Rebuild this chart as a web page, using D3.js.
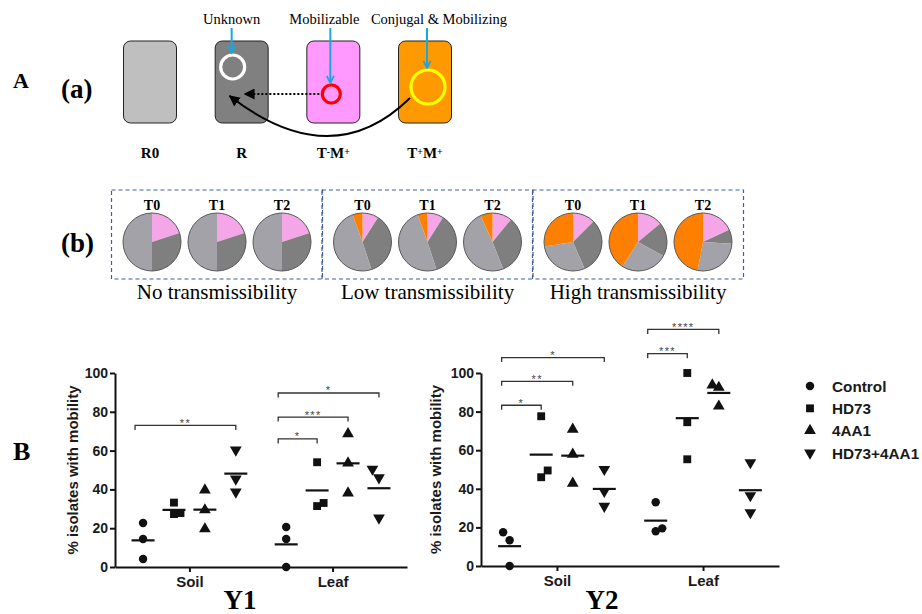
<!DOCTYPE html>
<html>
<head>
<meta charset="utf-8">
<script src="https://cdn.jsdelivr.net/npm/d3@7"></script>
<style>
  body { margin: 0; background: #fff; }
  svg { display: block; }
  .serif { font-family: "Liberation Serif", "Times New Roman", serif; }
  .sans { font-family: "Liberation Sans", Arial, sans-serif; }
</style>
</head>
<body>
<svg id="fig" width="922" height="614"></svg>
<script>
// panel A (a): cell types and plasmid labels
var cellTypes = ['R0', 'R', 'T-M+', 'T+M+'];
var cellColors = ['#bfbfbf', '#808080', '#ff99ff', '#ff9900'];
var plasmidLabels = ['Unknown', 'Mobilizable', 'Conjugal & Mobilizing'];

// panel A (b): pie slices, clockwise from 12 o'clock: T-M+, R, R0, T+M+ (%)
var pieGroups = ['No transmissibility', 'Low transmissibility', 'High transmissibility'];
var pieTimes = ['T0', 'T1', 'T2'];
var pieColors = ['#f5a6e6', '#7f7f7f', '#a2a2a8', '#ff8000'];
var pieNo = [[20, 30, 50, 0], [20, 30, 50, 0], [20, 30, 50, 0]];
var pieLow = [[9, 36, 49.5, 5.5], [9, 36, 49.5, 5.5], [11, 33, 49.3, 6.7]];
var pieHigh = [[12.5, 31, 29, 27.5], [14, 19, 26, 41], [18, 8, 27, 47]];

// panel B: % isolates with mobility
var categories = ['Soil', 'Leaf'];
var treatments = ['Control', 'HD73', '4AA1', 'HD73+4AA1'];
var y1Soil = [[22.7, 14.4, 4.1], [33.2, 27.3, 27.8], [39.7, 29.4, 19.6], [60.3, 45.4, 38.7]];
var y1Leaf = [[20.6, 14.4, 0], [54, 31.4, 33], [68.6, 53.6, 38.1], [50.5, 46, 25.3]];
var y2Soil = [[17.5, 13.3, 0], [77.6, 46, 49.5], [70.8, 57.9, 42.8], [50.1, 38.7, 31]];
var y2Leaf = [[33, 18, 19.5], [100, 74.5, 55.3], [93.7, 92.5, 82.8], [53.6, 36.5, 27.7]];
var yTicks = [0, 20, 40, 60, 80, 100];
// [category, from treatment, to treatment, bracket height (%), label]
var y1Brackets = [['Soil', 0, 3, 73, '**'], ['Leaf', 0, 1, 66, '*'], ['Leaf', 0, 2, 77.3, '***'], ['Leaf', 0, 3, 89.7, '*']];
var y2Brackets = [['Soil', 0, 1, 83.3, '*'], ['Soil', 0, 2, 95.7, '**'], ['Soil', 0, 3, 108, '*'],
  ['Leaf', 0, 1, 110, '***'], ['Leaf', 0, 2, 122.6, '****']];

(function () {
  var svg = d3.select('#fig');
  svg.append('rect').attr('width', 922).attr('height', 614).attr('fill', '#fff');

  var defs = svg.append('defs');
  defs.append('marker').attr('id', 'blueHead')
      .attr('viewBox', '0 0 10 10').attr('refX', 9).attr('refY', 5)
      .attr('markerWidth', 9).attr('markerHeight', 9).attr('markerUnits', 'userSpaceOnUse')
      .attr('orient', 'auto')
    .append('path').attr('d', 'M1,1 L9,5 L1,9')
      .attr('fill', 'none').attr('stroke', '#1aa7e0').attr('stroke-width', 2);
  defs.append('marker').attr('id', 'blackHead')
      .attr('viewBox', '0 0 10 10').attr('refX', 9).attr('refY', 5)
      .attr('markerWidth', 11).attr('markerHeight', 11).attr('markerUnits', 'userSpaceOnUse')
      .attr('orient', 'auto')
    .append('path').attr('d', 'M0,0 L10,5 L0,10 Z').attr('fill', '#000');

  // label with superscript +/- signs
  var supLabel = function (sel, text) {
    text.split('').forEach(function (ch) {
      if (ch === '+' || ch === '-') {
        sel.append('tspan').attr('baseline-shift', '35%').attr('font-size', '0.65em').text(ch);
      } else {
        sel.append('tspan').text(ch);
      }
    });
  };

  var panelLetter = function (txt, x, y, size) {
    svg.append('text').attr('class', 'serif').attr('x', x).attr('y', y)
        .attr('font-size', size).attr('font-weight', 'bold').text(txt);
  };

  panelLetter('A', 13, 88, 22);
  panelLetter('(a)', 61, 98, 27);
  panelLetter('(b)', 61, 252, 27);
  panelLetter('B', 13, 460, 26);

  // ---- A (a) cell diagram
  var cellX = d3.scalePoint().domain(cellTypes).range([150, 425]);
  var boxW = 53, boxH = 82, boxTop = 41;
  var cells = svg.append('g');
  cells.selectAll('rect.cell').data(cellTypes).enter().append('rect')
      .attr('class', 'cell')
      .attr('x', function (d) { return cellX(d) - boxW / 2; })
      .attr('y', boxTop)
      .attr('width', boxW).attr('height', boxH)
      .attr('rx', 7)
      .attr('fill', function (d, i) { return cellColors[i]; })
      .attr('stroke', '#222').attr('stroke-width', 1);

  cells.selectAll('text.cell').data(cellTypes).enter().append('text')
      .attr('class', 'serif cell')
      .attr('x', function (d) { return cellX(d); })
      .attr('y', 158)
      .attr('text-anchor', 'middle')
      .attr('font-size', 15).attr('font-weight', 'bold')
      .each(function (d) { supLabel(d3.select(this), d); });

  var plasmids = [
    {cell: 'R', dx: -9, cy: 67, r: 12, color: '#ffffff'},
    {cell: 'T-M+', dx: -2, cy: 94, r: 9, color: '#ff0000'},
    {cell: 'T+M+', dx: 3, cy: 87, r: 17, color: '#ffff00'}
  ];
  var labelDx = [-1, -7, 11];

  // curved and dotted transfer arrows
  var yellow = plasmids[2], red = plasmids[1], white = plasmids[0];
  var wx = cellX(white.cell), rx0 = cellX(red.cell) + red.dx, yx = cellX(yellow.cell) + yellow.dx;
  cells.append('path')
      .attr('d', 'M' + (yx - 18) + ',' + (yellow.cy + 11) + ' Q' + (wx + 90) + ',175 ' + (wx - 12) + ',96')
      .attr('fill', 'none').attr('stroke', '#000').attr('stroke-width', 2)
      .attr('marker-end', 'url(#blackHead)');
  cells.append('line')
      .attr('x1', rx0 - red.r - 3).attr('y1', red.cy)
      .attr('x2', wx + 3).attr('y2', red.cy)
      .attr('stroke', '#000').attr('stroke-width', 2).attr('stroke-dasharray', '2,2')
      .attr('marker-end', 'url(#blackHead)');

  plasmids.forEach(function (p, i) {
    var cx = cellX(p.cell) + p.dx;
    cells.append('circle').attr('cx', cx).attr('cy', p.cy).attr('r', p.r)
        .attr('fill', 'none').attr('stroke', p.color).attr('stroke-width', 3.2);
    cells.append('line').attr('x1', cx - 1).attr('y1', 28).attr('x2', cx - 1).attr('y2', p.cy - p.r - 2)
        .attr('stroke', '#1aa7e0').attr('stroke-width', 2).attr('marker-end', 'url(#blueHead)');
    cells.append('text').attr('class', 'serif')
        .attr('x', cx + labelDx[i]).attr('y', 24)
        .attr('text-anchor', 'middle').attr('font-size', 14.5)
        .text(plasmidLabels[i]);
  });

  // ---- A (b) pies
  var pieData = [pieNo, pieLow, pieHigh];
  var groupX = d3.scalePoint().domain(pieGroups).range([217, 638]);
  var timeX = d3.scalePoint().domain(pieTimes).range([-65, 65]);
  var pieR = 29, pieY = 242;
  var pie = d3.pie().sort(null);
  var arc = d3.arc().innerRadius(0).outerRadius(pieR);

  pieGroups.forEach(function (grp, gi) {
    var gx = groupX(grp);
    var g = svg.append('g').attr('transform', 'translate(' + gx + ',0)');
    g.append('rect').attr('x', -105.5).attr('y', 190).attr('width', 211).attr('height', 89)
        .attr('fill', 'none').attr('stroke', '#3f5f9f').attr('stroke-width', 1.2)
        .attr('stroke-dasharray', '4,3');
    g.append('text').attr('class', 'serif').attr('x', 0).attr('y', 299)
        .attr('text-anchor', 'middle').attr('font-size', 21).text(grp);

    pieTimes.forEach(function (t, ti) {
      var pg = g.append('g').attr('transform', 'translate(' + timeX(t) + ',' + pieY + ')');
      pg.selectAll('path').data(pie(pieData[gi][ti])).enter().append('path')
          .attr('d', arc)
          .attr('fill', function (d, i) { return pieColors[i]; });
      pg.append('circle').attr('r', pieR).attr('fill', 'none')
          .attr('stroke', '#5a5a5a').attr('stroke-width', 1);
      g.append('text').attr('class', 'serif').attr('x', timeX(t)).attr('y', 210)
          .attr('text-anchor', 'middle').attr('font-size', 14).attr('font-weight', 'bold').text(t);
    });
  });

  // ---- B scatter plots
  var symbols = [d3.symbolCircle, d3.symbolSquare, d3.symbolTriangle, d3.symbolTriangle];
  var symbolSizes = [56, 62, 60, 60];
  var symbolRotate = [0, 0, 0, 180];

  var symbolPath = function (i) {
    return d3.symbol().type(symbols[i]).size(symbolSizes[i])();
  };

  // spread points that would overlap within one treatment column
  var spreadPoints = function (values, pxPerUnit) {
    var order = values.map(function (v, i) { return i; })
        .sort(function (a, b) { return values[a] - values[b]; });
    var shift = values.map(function () { return 0; });
    order.forEach(function (idx, k) {
      if (k === 0) { return; }
      var prev = order[k - 1];
      if (shift[prev] === 0 && (values[idx] - values[prev]) * pxPerUnit < 9) {
        shift[idx] = (k === order.length - 1) ? -6.5 : 6.5;
      }
    });
    return shift;
  };

  var drawScatter = function (c) {
    var g = svg.append('g').attr('class', 'sans');
    var y = d3.scaleLinear().domain([0, 100]).range([c.bottom, c.top]);
    var x = d3.scalePoint().domain(categories).range([c.left, c.right]).padding(0.52);
    var sub = function (i) { return (i - 1.5) * 0.216 * x.step(); };
    var pxPerUnit = (c.bottom - c.top) / 100;

    var yAxis = g.append('g').attr('transform', 'translate(' + c.left + ',0)')
        .call(d3.axisLeft(y).tickValues(yTicks).tickSize(5).tickSizeOuter(0).tickPadding(2));
    var xAxis = g.append('g').attr('transform', 'translate(0,' + c.bottom + ')')
        .call(d3.axisBottom(x).tickSize(5).tickSizeOuter(0).tickPadding(4));
    [yAxis, xAxis].forEach(function (a) {
      a.select('.domain').attr('stroke', '#111').attr('stroke-width', 2);
      a.selectAll('.tick line').attr('stroke', '#111').attr('stroke-width', 2);
      a.selectAll('.tick text').attr('fill', '#1a1a1a').attr('font-weight', 'bold')
          .attr('font-family', '"Liberation Sans", Arial, sans-serif');
    });
    yAxis.selectAll('.tick text').attr('font-size', 14);
    xAxis.selectAll('.tick text').attr('font-size', 15);

    g.append('text')
        .attr('transform', 'translate(' + c.labelX + ',' + ((c.top + c.bottom) / 2) + ') rotate(-90)')
        .attr('text-anchor', 'middle').attr('dy', '0.35em')
        .attr('font-size', 15).attr('font-weight', 'bold').attr('fill', '#1a1a1a')
        .text('% isolates with mobility');

    categories.forEach(function (cat, ci) {
      var groups = c.data[ci];
      groups.forEach(function (values, ti) {
        var cx = x(cat) + sub(ti);
        var shift = spreadPoints(values, pxPerUnit);
        g.selectAll(null).data(values).enter().append('path')
            .attr('d', symbolPath(ti))
            .attr('transform', function (d, i) {
              return 'translate(' + (cx + shift[i]) + ',' + y(d) + ') rotate(' + symbolRotate[ti] + ')';
            })
            .attr('fill', '#111');
        var m = d3.mean(values);
        g.append('line')
            .attr('x1', cx - 11.5).attr('x2', cx + 11.5)
            .attr('y1', y(m)).attr('y2', y(m))
            .attr('stroke', '#111').attr('stroke-width', 2.2);
      });
    });

    c.brackets.forEach(function (b) {
      var x1 = x(b[0]) + sub(b[1]) - 8;
      var x2 = x(b[0]) + sub(b[2]);
      var by = y(b[3]);
      g.append('path')
          .attr('d', 'M' + x1 + ',' + (by + 4.5) + 'V' + by + 'H' + x2 + 'V' + (by + 4.5))
          .attr('fill', 'none').attr('stroke', '#333').attr('stroke-width', 1.3);
      g.append('text').attr('x', (x1 + x2) / 2).attr('y', by + 1.5)
          .attr('text-anchor', 'middle').attr('font-size', 11).attr('letter-spacing', 1.3)
          .attr('fill', '#444').text(b[4]);
    });

    svg.append('text').attr('class', 'serif').attr('x', c.titleX).attr('y', 609)
        .attr('text-anchor', 'middle').attr('font-size', 27).attr('font-weight', 'bold')
        .text(c.title);
    return g;
  };

  drawScatter({left: 115, right: 407, top: 373, bottom: 567, labelX: 73,
    data: [y1Soil, y1Leaf], brackets: y1Brackets, title: 'Y1', titleX: 240});
  drawScatter({left: 481, right: 779, top: 373, bottom: 566, labelX: 436,
    data: [y2Soil, y2Leaf], brackets: y2Brackets, title: 'Y2', titleX: 602});

  // legend
  var legend = svg.append('g').attr('class', 'sans');
  var legendY = d3.scalePoint().domain(treatments).range([386, 453]);
  treatments.forEach(function (t, i) {
    legend.append('path').attr('d', symbolPath(i))
        .attr('transform', 'translate(810,' + legendY(t) + ') rotate(' + symbolRotate[i] + ')')
        .attr('fill', '#111');
    legend.append('text').attr('x', 832).attr('y', legendY(t)).attr('dy', '0.36em')
        .attr('font-size', 15.3).attr('font-weight', 'bold').attr('fill', '#1a1a1a').text(t);
  });
})();
</script>
</body>
</html>
